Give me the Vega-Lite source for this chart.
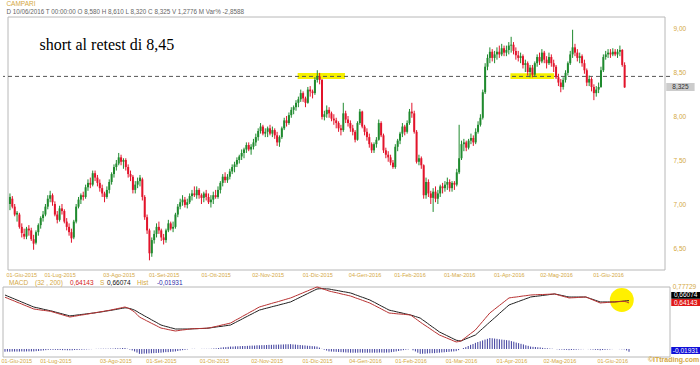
{
"$schema": "https://vega.github.io/schema/vega-lite/v6.json",
"width": 667, "height": 340,
"autosize": "none",
"padding": {"left": 3, "top": 17, "right": 30, "bottom": 8},
"background": "white",
"config": {"view": {"stroke": null}, "font": "Liberation Sans"},
"data": {"values": [
{"i":0,"o":7.00,"h":7.12,"l":6.93,"c":7.08,"m":0.690,"s":0.709,"d":-0.019},
{"i":1,"o":7.06,"h":7.09,"l":6.95,"c":6.97,"m":0.682,"s":0.700,"d":-0.018},
{"i":2,"o":6.97,"h":7.00,"l":6.86,"c":6.88,"m":0.673,"s":0.692,"d":-0.019},
{"i":3,"o":6.88,"h":6.92,"l":6.80,"c":6.90,"m":0.665,"s":0.683,"d":-0.018},
{"i":4,"o":6.88,"h":6.90,"l":6.72,"c":6.74,"m":0.657,"s":0.675,"d":-0.018},
{"i":5,"o":6.74,"h":6.78,"l":6.62,"c":6.67,"m":0.648,"s":0.666,"d":-0.018},
{"i":6,"o":6.66,"h":6.72,"l":6.60,"c":6.63,"m":0.640,"s":0.658,"d":-0.018},
{"i":7,"o":6.63,"h":6.74,"l":6.60,"c":6.72,"m":0.632,"s":0.649,"d":-0.017},
{"i":8,"o":6.72,"h":6.76,"l":6.64,"c":6.70,"m":0.623,"s":0.641,"d":-0.018},
{"i":9,"o":6.70,"h":6.73,"l":6.58,"c":6.60,"m":0.615,"s":0.632,"d":-0.017},
{"i":10,"o":6.60,"h":6.65,"l":6.48,"c":6.55,"m":0.607,"s":0.624,"d":-0.017},
{"i":11,"o":6.56,"h":6.70,"l":6.54,"c":6.68,"m":0.598,"s":0.615,"d":-0.017},
{"i":12,"o":6.68,"h":6.78,"l":6.64,"c":6.76,"m":0.590,"s":0.607,"d":-0.017},
{"i":13,"o":6.76,"h":6.86,"l":6.72,"c":6.84,"m":0.587,"s":0.602,"d":-0.015},
{"i":14,"o":6.84,"h":6.92,"l":6.80,"c":6.88,"m":0.584,"s":0.598,"d":-0.014},
{"i":15,"o":6.88,"h":7.00,"l":6.86,"c":6.97,"m":0.581,"s":0.593,"d":-0.012},
{"i":16,"o":6.97,"h":7.10,"l":6.94,"c":7.06,"m":0.578,"s":0.588,"d":-0.010},
{"i":17,"o":7.06,"h":7.15,"l":7.02,"c":7.10,"m":0.576,"s":0.584,"d":-0.008},
{"i":18,"o":7.10,"h":7.12,"l":6.98,"c":7.02,"m":0.573,"s":0.579,"d":-0.006},
{"i":19,"o":7.00,"h":7.03,"l":6.86,"c":6.88,"m":0.570,"s":0.575,"d":-0.005},
{"i":20,"o":6.88,"h":6.92,"l":6.78,"c":6.82,"m":0.564,"s":0.570,"d":-0.006},
{"i":21,"o":6.82,"h":6.98,"l":6.80,"c":6.95,"m":0.558,"s":0.564,"d":-0.006},
{"i":22,"o":6.95,"h":7.00,"l":6.88,"c":6.92,"m":0.552,"s":0.559,"d":-0.007},
{"i":23,"o":6.92,"h":6.94,"l":6.78,"c":6.80,"m":0.546,"s":0.553,"d":-0.007},
{"i":24,"o":6.80,"h":6.84,"l":6.70,"c":6.74,"m":0.540,"s":0.548,"d":-0.008},
{"i":25,"o":6.74,"h":6.78,"l":6.64,"c":6.68,"m":0.534,"s":0.542,"d":-0.008},
{"i":26,"o":6.68,"h":6.72,"l":6.56,"c":6.61,"m":0.528,"s":0.537,"d":-0.009},
{"i":27,"o":6.62,"h":6.82,"l":6.60,"c":6.80,"m":0.522,"s":0.531,"d":-0.009},
{"i":28,"o":6.80,"h":7.00,"l":6.78,"c":6.97,"m":0.525,"s":0.534,"d":-0.009},
{"i":29,"o":6.97,"h":7.08,"l":6.95,"c":7.05,"m":0.529,"s":0.536,"d":-0.007},
{"i":30,"o":7.05,"h":7.12,"l":7.00,"c":7.10,"m":0.532,"s":0.539,"d":-0.007},
{"i":31,"o":7.10,"h":7.14,"l":7.04,"c":7.08,"m":0.536,"s":0.541,"d":-0.005},
{"i":32,"o":7.08,"h":7.22,"l":7.06,"c":7.19,"m":0.539,"s":0.544,"d":-0.005},
{"i":33,"o":7.19,"h":7.28,"l":7.15,"c":7.24,"m":0.542,"s":0.546,"d":-0.004},
{"i":34,"o":7.24,"h":7.30,"l":7.18,"c":7.22,"m":0.546,"s":0.549,"d":-0.003},
{"i":35,"o":7.22,"h":7.38,"l":7.20,"c":7.35,"m":0.549,"s":0.551,"d":-0.002},
{"i":36,"o":7.35,"h":7.38,"l":7.26,"c":7.30,"m":0.553,"s":0.554,"d":-0.001},
{"i":37,"o":7.30,"h":7.33,"l":7.20,"c":7.24,"m":0.556,"s":0.556,"d":0},
{"i":38,"o":7.24,"h":7.28,"l":7.14,"c":7.18,"m":0.560,"s":0.559,"d":0.001},
{"i":39,"o":7.18,"h":7.22,"l":7.08,"c":7.12,"m":0.563,"s":0.562,"d":0.001},
{"i":40,"o":7.12,"h":7.14,"l":7.02,"c":7.08,"m":0.567,"s":0.565,"d":0.002},
{"i":41,"o":7.08,"h":7.20,"l":7.06,"c":7.16,"m":0.570,"s":0.568,"d":0.002},
{"i":42,"o":7.16,"h":7.28,"l":7.12,"c":7.25,"m":0.574,"s":0.572,"d":0.002},
{"i":43,"o":7.25,"h":7.36,"l":7.22,"c":7.34,"m":0.577,"s":0.575,"d":0.002},
{"i":44,"o":7.34,"h":7.45,"l":7.30,"c":7.42,"m":0.581,"s":0.578,"d":0.003},
{"i":45,"o":7.42,"h":7.50,"l":7.38,"c":7.46,"m":0.585,"s":0.582,"d":0.003},
{"i":46,"o":7.46,"h":7.58,"l":7.44,"c":7.53,"m":0.590,"s":0.585,"d":0.005},
{"i":47,"o":7.53,"h":7.56,"l":7.44,"c":7.48,"m":0.594,"s":0.589,"d":0.005},
{"i":48,"o":7.48,"h":7.52,"l":7.40,"c":7.50,"m":0.598,"s":0.593,"d":0.005},
{"i":49,"o":7.50,"h":7.52,"l":7.38,"c":7.42,"m":0.603,"s":0.596,"d":0.007},
{"i":50,"o":7.42,"h":7.45,"l":7.30,"c":7.34,"m":0.607,"s":0.600,"d":0.007},
{"i":51,"o":7.34,"h":7.38,"l":7.26,"c":7.31,"m":0.600,"s":0.598,"d":0.002},
{"i":52,"o":7.31,"h":7.33,"l":7.12,"c":7.16,"m":0.590,"s":0.594,"d":-0.004},
{"i":53,"o":7.16,"h":7.26,"l":7.12,"c":7.22,"m":0.578,"s":0.588,"d":-0.010},
{"i":54,"o":7.22,"h":7.30,"l":7.18,"c":7.26,"m":0.563,"s":0.580,"d":-0.017},
{"i":55,"o":7.26,"h":7.33,"l":7.20,"c":7.30,"m":0.544,"s":0.569,"d":-0.025},
{"i":56,"o":7.28,"h":7.30,"l":7.04,"c":7.08,"m":0.522,"s":0.556,"d":-0.034},
{"i":57,"o":7.08,"h":7.10,"l":6.82,"c":6.85,"m":0.511,"s":0.545,"d":-0.034},
{"i":58,"o":6.85,"h":6.88,"l":6.66,"c":6.70,"m":0.501,"s":0.533,"d":-0.032},
{"i":59,"o":6.70,"h":6.72,"l":6.36,"c":6.44,"m":0.490,"s":0.522,"d":-0.032},
{"i":60,"o":6.44,"h":6.62,"l":6.40,"c":6.59,"m":0.480,"s":0.511,"d":-0.031},
{"i":61,"o":6.59,"h":6.70,"l":6.55,"c":6.66,"m":0.469,"s":0.499,"d":-0.030},
{"i":62,"o":6.66,"h":6.78,"l":6.62,"c":6.74,"m":0.459,"s":0.488,"d":-0.029},
{"i":63,"o":6.74,"h":6.80,"l":6.66,"c":6.70,"m":0.449,"s":0.477,"d":-0.028},
{"i":64,"o":6.70,"h":6.72,"l":6.58,"c":6.62,"m":0.438,"s":0.465,"d":-0.027},
{"i":65,"o":6.62,"h":6.66,"l":6.54,"c":6.59,"m":0.428,"s":0.454,"d":-0.026},
{"i":66,"o":6.59,"h":6.72,"l":6.56,"c":6.70,"m":0.424,"s":0.448,"d":-0.024},
{"i":67,"o":6.70,"h":6.82,"l":6.68,"c":6.78,"m":0.420,"s":0.442,"d":-0.022},
{"i":68,"o":6.78,"h":6.80,"l":6.70,"c":6.72,"m":0.415,"s":0.437,"d":-0.022},
{"i":69,"o":6.72,"h":6.80,"l":6.68,"c":6.74,"m":0.411,"s":0.431,"d":-0.020},
{"i":70,"o":6.74,"h":6.90,"l":6.72,"c":6.88,"m":0.407,"s":0.426,"d":-0.019},
{"i":71,"o":6.88,"h":7.00,"l":6.85,"c":6.97,"m":0.403,"s":0.420,"d":-0.017},
{"i":72,"o":6.97,"h":7.06,"l":6.94,"c":7.02,"m":0.406,"s":0.420,"d":-0.014},
{"i":73,"o":7.02,"h":7.10,"l":6.98,"c":7.05,"m":0.409,"s":0.420,"d":-0.011},
{"i":74,"o":7.05,"h":7.08,"l":6.96,"c":6.99,"m":0.412,"s":0.420,"d":-0.008},
{"i":75,"o":6.99,"h":7.06,"l":6.95,"c":7.02,"m":0.414,"s":0.420,"d":-0.006},
{"i":76,"o":7.02,"h":7.12,"l":7.00,"c":7.09,"m":0.417,"s":0.420,"d":-0.003},
{"i":77,"o":7.09,"h":7.16,"l":7.04,"c":7.12,"m":0.420,"s":0.420,"d":0},
{"i":78,"o":7.12,"h":7.20,"l":7.08,"c":7.10,"m":0.422,"s":0.421,"d":0.001},
{"i":79,"o":7.10,"h":7.20,"l":7.06,"c":7.16,"m":0.423,"s":0.422,"d":0.001},
{"i":80,"o":7.16,"h":7.18,"l":7.06,"c":7.10,"m":0.423,"s":0.423,"d":0},
{"i":81,"o":7.10,"h":7.12,"l":7.00,"c":7.07,"m":0.424,"s":0.424,"d":0},
{"i":82,"o":7.07,"h":7.14,"l":7.02,"c":7.12,"m":0.425,"s":0.424,"d":0.001},
{"i":83,"o":7.12,"h":7.16,"l":7.04,"c":7.08,"m":0.426,"s":0.425,"d":0.001},
{"i":84,"o":7.08,"h":7.12,"l":7.00,"c":7.02,"m":0.427,"s":0.426,"d":0.001},
{"i":85,"o":7.02,"h":7.10,"l":6.96,"c":7.05,"m":0.429,"s":0.428,"d":0.001},
{"i":86,"o":7.05,"h":7.14,"l":7.00,"c":7.10,"m":0.433,"s":0.431,"d":0.002},
{"i":87,"o":7.10,"h":7.16,"l":7.06,"c":7.08,"m":0.438,"s":0.434,"d":0.004},
{"i":88,"o":7.08,"h":7.20,"l":7.06,"c":7.16,"m":0.442,"s":0.437,"d":0.005},
{"i":89,"o":7.16,"h":7.26,"l":7.12,"c":7.24,"m":0.447,"s":0.440,"d":0.007},
{"i":90,"o":7.24,"h":7.34,"l":7.20,"c":7.31,"m":0.452,"s":0.442,"d":0.010},
{"i":91,"o":7.31,"h":7.36,"l":7.24,"c":7.27,"m":0.457,"s":0.445,"d":0.012},
{"i":92,"o":7.27,"h":7.34,"l":7.24,"c":7.31,"m":0.461,"s":0.448,"d":0.013},
{"i":93,"o":7.31,"h":7.40,"l":7.28,"c":7.37,"m":0.466,"s":0.451,"d":0.015},
{"i":94,"o":7.37,"h":7.45,"l":7.34,"c":7.42,"m":0.471,"s":0.454,"d":0.017},
{"i":95,"o":7.42,"h":7.48,"l":7.36,"c":7.45,"m":0.482,"s":0.465,"d":0.017},
{"i":96,"o":7.45,"h":7.53,"l":7.42,"c":7.50,"m":0.494,"s":0.475,"d":0.019},
{"i":97,"o":7.50,"h":7.56,"l":7.46,"c":7.54,"m":0.505,"s":0.486,"d":0.019},
{"i":98,"o":7.54,"h":7.62,"l":7.50,"c":7.58,"m":0.516,"s":0.496,"d":0.020},
{"i":99,"o":7.58,"h":7.64,"l":7.52,"c":7.62,"m":0.528,"s":0.507,"d":0.021},
{"i":100,"o":7.62,"h":7.70,"l":7.58,"c":7.67,"m":0.539,"s":0.518,"d":0.021},
{"i":101,"o":7.67,"h":7.70,"l":7.60,"c":7.62,"m":0.550,"s":0.528,"d":0.022},
{"i":102,"o":7.62,"h":7.68,"l":7.56,"c":7.65,"m":0.562,"s":0.539,"d":0.023},
{"i":103,"o":7.65,"h":7.74,"l":7.62,"c":7.70,"m":0.573,"s":0.549,"d":0.024},
{"i":104,"o":7.70,"h":7.80,"l":7.66,"c":7.76,"m":0.584,"s":0.560,"d":0.024},
{"i":105,"o":7.76,"h":7.86,"l":7.72,"c":7.83,"m":0.596,"s":0.570,"d":0.026},
{"i":106,"o":7.83,"h":7.92,"l":7.80,"c":7.88,"m":0.607,"s":0.581,"d":0.026},
{"i":107,"o":7.88,"h":7.90,"l":7.78,"c":7.80,"m":0.613,"s":0.586,"d":0.027},
{"i":108,"o":7.80,"h":7.86,"l":7.76,"c":7.82,"m":0.619,"s":0.592,"d":0.027},
{"i":109,"o":7.82,"h":7.88,"l":7.76,"c":7.86,"m":0.625,"s":0.597,"d":0.028},
{"i":110,"o":7.86,"h":7.90,"l":7.78,"c":7.80,"m":0.631,"s":0.602,"d":0.029},
{"i":111,"o":7.80,"h":7.88,"l":7.76,"c":7.84,"m":0.637,"s":0.608,"d":0.029},
{"i":112,"o":7.84,"h":7.86,"l":7.74,"c":7.78,"m":0.643,"s":0.613,"d":0.030},
{"i":113,"o":7.78,"h":7.82,"l":7.66,"c":7.70,"m":0.648,"s":0.618,"d":0.030},
{"i":114,"o":7.70,"h":7.78,"l":7.65,"c":7.76,"m":0.654,"s":0.623,"d":0.031},
{"i":115,"o":7.76,"h":7.88,"l":7.74,"c":7.86,"m":0.660,"s":0.629,"d":0.031},
{"i":116,"o":7.86,"h":7.98,"l":7.84,"c":7.95,"m":0.666,"s":0.634,"d":0.032},
{"i":117,"o":7.95,"h":8.00,"l":7.88,"c":7.92,"m":0.672,"s":0.639,"d":0.033},
{"i":118,"o":7.92,"h":8.04,"l":7.90,"c":8.01,"m":0.678,"s":0.645,"d":0.033},
{"i":119,"o":8.01,"h":8.10,"l":7.98,"c":8.07,"m":0.684,"s":0.650,"d":0.034},
{"i":120,"o":8.07,"h":8.12,"l":8.02,"c":8.10,"m":0.692,"s":0.660,"d":0.032},
{"i":121,"o":8.10,"h":8.18,"l":8.06,"c":8.15,"m":0.701,"s":0.670,"d":0.031},
{"i":122,"o":8.15,"h":8.22,"l":8.10,"c":8.19,"m":0.709,"s":0.680,"d":0.029},
{"i":123,"o":8.19,"h":8.30,"l":8.16,"c":8.26,"m":0.718,"s":0.690,"d":0.028},
{"i":124,"o":8.26,"h":8.28,"l":8.16,"c":8.20,"m":0.726,"s":0.700,"d":0.026},
{"i":125,"o":8.20,"h":8.22,"l":8.10,"c":8.15,"m":0.735,"s":0.710,"d":0.025},
{"i":126,"o":8.15,"h":8.33,"l":8.14,"c":8.30,"m":0.743,"s":0.720,"d":0.023},
{"i":127,"o":8.30,"h":8.34,"l":8.22,"c":8.28,"m":0.752,"s":0.730,"d":0.022},
{"i":128,"o":8.28,"h":8.30,"l":8.20,"c":8.26,"m":0.760,"s":0.740,"d":0.020},
{"i":129,"o":8.26,"h":8.44,"l":8.24,"c":8.41,"m":0.769,"s":0.750,"d":0.019},
{"i":130,"o":8.41,"h":8.52,"l":8.38,"c":8.45,"m":0.777,"s":0.760,"d":0.017},
{"i":131,"o":8.45,"h":8.49,"l":8.36,"c":8.41,"m":0.772,"s":0.762,"d":0.010},
{"i":132,"o":8.41,"h":8.42,"l":7.96,"c":7.99,"m":0.764,"s":0.763,"d":0.001},
{"i":133,"o":7.99,"h":8.06,"l":7.95,"c":8.02,"m":0.757,"s":0.762,"d":-0.005},
{"i":134,"o":8.02,"h":8.12,"l":7.98,"c":8.07,"m":0.750,"s":0.761,"d":-0.011},
{"i":135,"o":8.07,"h":8.10,"l":7.98,"c":8.03,"m":0.743,"s":0.760,"d":-0.017},
{"i":136,"o":8.03,"h":8.05,"l":7.94,"c":7.97,"m":0.738,"s":0.756,"d":-0.018},
{"i":137,"o":7.97,"h":8.02,"l":7.90,"c":7.95,"m":0.733,"s":0.752,"d":-0.019},
{"i":138,"o":7.95,"h":7.98,"l":7.86,"c":7.92,"m":0.729,"s":0.749,"d":-0.020},
{"i":139,"o":7.92,"h":7.94,"l":7.82,"c":7.86,"m":0.724,"s":0.745,"d":-0.021},
{"i":140,"o":7.86,"h":7.90,"l":7.78,"c":7.84,"m":0.719,"s":0.741,"d":-0.022},
{"i":141,"o":7.84,"h":8.15,"l":7.82,"c":8.03,"m":0.714,"s":0.737,"d":-0.023},
{"i":142,"o":8.03,"h":8.06,"l":7.92,"c":7.96,"m":0.710,"s":0.734,"d":-0.024},
{"i":143,"o":7.96,"h":8.00,"l":7.88,"c":7.92,"m":0.705,"s":0.730,"d":-0.025},
{"i":144,"o":7.92,"h":7.95,"l":7.82,"c":7.86,"m":0.700,"s":0.726,"d":-0.026},
{"i":145,"o":7.86,"h":7.90,"l":7.78,"c":7.82,"m":0.693,"s":0.719,"d":-0.026},
{"i":146,"o":7.82,"h":7.84,"l":7.70,"c":7.73,"m":0.685,"s":0.711,"d":-0.026},
{"i":147,"o":7.73,"h":7.94,"l":7.72,"c":7.92,"m":0.678,"s":0.704,"d":-0.026},
{"i":148,"o":7.92,"h":8.08,"l":7.90,"c":8.05,"m":0.671,"s":0.696,"d":-0.025},
{"i":149,"o":8.05,"h":8.06,"l":7.86,"c":7.88,"m":0.663,"s":0.689,"d":-0.026},
{"i":150,"o":7.88,"h":7.90,"l":7.78,"c":7.82,"m":0.656,"s":0.682,"d":-0.026},
{"i":151,"o":7.82,"h":7.86,"l":7.72,"c":7.76,"m":0.648,"s":0.674,"d":-0.026},
{"i":152,"o":7.76,"h":7.80,"l":7.64,"c":7.68,"m":0.641,"s":0.667,"d":-0.026},
{"i":153,"o":7.68,"h":7.70,"l":7.58,"c":7.61,"m":0.630,"s":0.656,"d":-0.026},
{"i":154,"o":7.61,"h":7.70,"l":7.58,"c":7.68,"m":0.620,"s":0.646,"d":-0.026},
{"i":155,"o":7.68,"h":7.76,"l":7.64,"c":7.73,"m":0.609,"s":0.635,"d":-0.026},
{"i":156,"o":7.73,"h":7.96,"l":7.72,"c":7.92,"m":0.599,"s":0.624,"d":-0.025},
{"i":157,"o":7.92,"h":7.94,"l":7.76,"c":7.78,"m":0.588,"s":0.613,"d":-0.025},
{"i":158,"o":7.78,"h":7.80,"l":7.58,"c":7.61,"m":0.577,"s":0.603,"d":-0.026},
{"i":159,"o":7.61,"h":7.64,"l":7.52,"c":7.56,"m":0.567,"s":0.592,"d":-0.025},
{"i":160,"o":7.56,"h":7.60,"l":7.48,"c":7.53,"m":0.556,"s":0.581,"d":-0.025},
{"i":161,"o":7.53,"h":7.56,"l":7.44,"c":7.47,"m":0.554,"s":0.576,"d":-0.022},
{"i":162,"o":7.47,"h":7.50,"l":7.40,"c":7.42,"m":0.552,"s":0.572,"d":-0.020},
{"i":163,"o":7.42,"h":7.68,"l":7.40,"c":7.65,"m":0.550,"s":0.567,"d":-0.017},
{"i":164,"o":7.65,"h":7.74,"l":7.60,"c":7.72,"m":0.548,"s":0.562,"d":-0.014},
{"i":165,"o":7.72,"h":7.82,"l":7.68,"c":7.80,"m":0.547,"s":0.558,"d":-0.011},
{"i":166,"o":7.80,"h":7.92,"l":7.76,"c":7.88,"m":0.545,"s":0.553,"d":-0.008},
{"i":167,"o":7.88,"h":7.90,"l":7.78,"c":7.82,"m":0.543,"s":0.548,"d":-0.005},
{"i":168,"o":7.82,"h":7.95,"l":7.80,"c":7.92,"m":0.541,"s":0.544,"d":-0.003},
{"i":169,"o":7.92,"h":8.08,"l":7.90,"c":8.05,"m":0.539,"s":0.539,"d":0},
{"i":170,"o":8.05,"h":8.15,"l":7.98,"c":8.03,"m":0.524,"s":0.533,"d":-0.009},
{"i":171,"o":8.03,"h":8.06,"l":7.80,"c":7.82,"m":0.509,"s":0.526,"d":-0.017},
{"i":172,"o":7.82,"h":7.84,"l":7.46,"c":7.48,"m":0.494,"s":0.520,"d":-0.026},
{"i":173,"o":7.48,"h":7.56,"l":7.44,"c":7.52,"m":0.479,"s":0.513,"d":-0.034},
{"i":174,"o":7.52,"h":7.54,"l":7.40,"c":7.44,"m":0.465,"s":0.498,"d":-0.033},
{"i":175,"o":7.44,"h":7.45,"l":7.06,"c":7.10,"m":0.451,"s":0.484,"d":-0.033},
{"i":176,"o":7.10,"h":7.30,"l":7.06,"c":7.25,"m":0.438,"s":0.469,"d":-0.031},
{"i":177,"o":7.25,"h":7.28,"l":7.08,"c":7.12,"m":0.424,"s":0.454,"d":-0.030},
{"i":178,"o":7.12,"h":7.15,"l":7.00,"c":7.07,"m":0.410,"s":0.439,"d":-0.029},
{"i":179,"o":7.07,"h":7.18,"l":6.91,"c":7.14,"m":0.396,"s":0.425,"d":-0.029},
{"i":180,"o":7.14,"h":7.20,"l":7.02,"c":7.06,"m":0.383,"s":0.410,"d":-0.027},
{"i":181,"o":7.06,"h":7.16,"l":7.00,"c":7.12,"m":0.369,"s":0.395,"d":-0.026},
{"i":182,"o":7.12,"h":7.22,"l":7.08,"c":7.20,"m":0.361,"s":0.385,"d":-0.024},
{"i":183,"o":7.20,"h":7.24,"l":7.12,"c":7.18,"m":0.352,"s":0.375,"d":-0.023},
{"i":184,"o":7.18,"h":7.26,"l":7.14,"c":7.22,"m":0.344,"s":0.365,"d":-0.021},
{"i":185,"o":7.22,"h":7.30,"l":7.16,"c":7.25,"m":0.335,"s":0.355,"d":-0.020},
{"i":186,"o":7.25,"h":7.28,"l":7.14,"c":7.18,"m":0.327,"s":0.345,"d":-0.018},
{"i":187,"o":7.18,"h":7.26,"l":7.14,"c":7.24,"m":0.318,"s":0.335,"d":-0.017},
{"i":188,"o":7.24,"h":7.26,"l":7.16,"c":7.22,"m":0.310,"s":0.325,"d":-0.015},
{"i":189,"o":7.22,"h":7.40,"l":7.20,"c":7.36,"m":0.313,"s":0.321,"d":-0.008},
{"i":190,"o":7.36,"h":7.90,"l":7.34,"c":7.52,"m":0.318,"s":0.318,"d":0},
{"i":191,"o":7.52,"h":7.72,"l":7.50,"c":7.68,"m":0.334,"s":0.327,"d":0.007},
{"i":192,"o":7.68,"h":7.74,"l":7.60,"c":7.70,"m":0.349,"s":0.336,"d":0.013},
{"i":193,"o":7.70,"h":7.72,"l":7.60,"c":7.64,"m":0.365,"s":0.344,"d":0.021},
{"i":194,"o":7.64,"h":7.74,"l":7.62,"c":7.72,"m":0.381,"s":0.352,"d":0.029},
{"i":195,"o":7.72,"h":7.80,"l":7.68,"c":7.75,"m":0.396,"s":0.361,"d":0.035},
{"i":196,"o":7.75,"h":7.78,"l":7.66,"c":7.70,"m":0.412,"s":0.369,"d":0.043},
{"i":197,"o":7.70,"h":7.86,"l":7.68,"c":7.82,"m":0.436,"s":0.387,"d":0.049},
{"i":198,"o":7.82,"h":7.94,"l":7.80,"c":7.90,"m":0.460,"s":0.406,"d":0.054},
{"i":199,"o":7.90,"h":8.02,"l":7.88,"c":7.98,"m":0.484,"s":0.424,"d":0.060},
{"i":200,"o":7.98,"h":8.30,"l":7.96,"c":8.27,"m":0.508,"s":0.442,"d":0.066},
{"i":201,"o":8.27,"h":8.60,"l":8.25,"c":8.56,"m":0.532,"s":0.461,"d":0.071},
{"i":202,"o":8.56,"h":8.70,"l":8.52,"c":8.66,"m":0.556,"s":0.479,"d":0.077},
{"i":203,"o":8.66,"h":8.78,"l":8.60,"c":8.73,"m":0.572,"s":0.497,"d":0.075},
{"i":204,"o":8.73,"h":8.76,"l":8.62,"c":8.66,"m":0.588,"s":0.515,"d":0.073},
{"i":205,"o":8.66,"h":8.74,"l":8.60,"c":8.70,"m":0.604,"s":0.533,"d":0.071},
{"i":206,"o":8.70,"h":8.78,"l":8.64,"c":8.73,"m":0.620,"s":0.552,"d":0.068},
{"i":207,"o":8.73,"h":8.80,"l":8.66,"c":8.70,"m":0.636,"s":0.570,"d":0.066},
{"i":208,"o":8.70,"h":8.82,"l":8.68,"c":8.77,"m":0.652,"s":0.588,"d":0.064},
{"i":209,"o":8.77,"h":8.80,"l":8.68,"c":8.72,"m":0.668,"s":0.606,"d":0.062},
{"i":210,"o":8.72,"h":8.80,"l":8.68,"c":8.75,"m":0.684,"s":0.624,"d":0.060},
{"i":211,"o":8.75,"h":8.84,"l":8.70,"c":8.80,"m":0.687,"s":0.632,"d":0.055},
{"i":212,"o":8.80,"h":8.90,"l":8.72,"c":8.81,"m":0.690,"s":0.639,"d":0.051},
{"i":213,"o":8.81,"h":8.84,"l":8.70,"c":8.74,"m":0.692,"s":0.647,"d":0.045},
{"i":214,"o":8.74,"h":8.78,"l":8.64,"c":8.69,"m":0.695,"s":0.654,"d":0.041},
{"i":215,"o":8.69,"h":8.74,"l":8.62,"c":8.66,"m":0.698,"s":0.662,"d":0.036},
{"i":216,"o":8.66,"h":8.72,"l":8.60,"c":8.68,"m":0.701,"s":0.669,"d":0.032},
{"i":217,"o":8.68,"h":8.70,"l":8.54,"c":8.58,"m":0.703,"s":0.677,"d":0.026},
{"i":218,"o":8.58,"h":8.64,"l":8.50,"c":8.60,"m":0.706,"s":0.684,"d":0.022},
{"i":219,"o":8.60,"h":8.62,"l":8.46,"c":8.50,"m":0.709,"s":0.692,"d":0.017},
{"i":220,"o":8.50,"h":8.58,"l":8.44,"c":8.55,"m":0.710,"s":0.695,"d":0.015},
{"i":221,"o":8.55,"h":8.58,"l":8.44,"c":8.47,"m":0.711,"s":0.697,"d":0.014},
{"i":222,"o":8.47,"h":8.62,"l":8.45,"c":8.60,"m":0.712,"s":0.700,"d":0.012},
{"i":223,"o":8.60,"h":8.70,"l":8.56,"c":8.67,"m":0.713,"s":0.702,"d":0.011},
{"i":224,"o":8.67,"h":8.72,"l":8.58,"c":8.62,"m":0.713,"s":0.705,"d":0.008},
{"i":225,"o":8.62,"h":8.76,"l":8.60,"c":8.72,"m":0.714,"s":0.708,"d":0.006},
{"i":226,"o":8.72,"h":8.74,"l":8.60,"c":8.64,"m":0.715,"s":0.710,"d":0.005},
{"i":227,"o":8.64,"h":8.68,"l":8.54,"c":8.60,"m":0.716,"s":0.713,"d":0.003},
{"i":228,"o":8.60,"h":8.72,"l":8.58,"c":8.67,"m":0.717,"s":0.715,"d":0.002},
{"i":229,"o":8.67,"h":8.70,"l":8.56,"c":8.60,"m":0.718,"s":0.718,"d":0},
{"i":230,"o":8.60,"h":8.64,"l":8.50,"c":8.56,"m":0.712,"s":0.714,"d":-0.002},
{"i":231,"o":8.56,"h":8.58,"l":8.42,"c":8.44,"m":0.706,"s":0.710,"d":-0.004},
{"i":232,"o":8.44,"h":8.48,"l":8.34,"c":8.38,"m":0.701,"s":0.705,"d":-0.004},
{"i":233,"o":8.38,"h":8.42,"l":8.27,"c":8.33,"m":0.695,"s":0.701,"d":-0.006},
{"i":234,"o":8.33,"h":8.44,"l":8.30,"c":8.41,"m":0.690,"s":0.696,"d":-0.006},
{"i":235,"o":8.41,"h":8.52,"l":8.38,"c":8.49,"m":0.684,"s":0.692,"d":-0.008},
{"i":236,"o":8.49,"h":8.62,"l":8.46,"c":8.60,"m":0.685,"s":0.692,"d":-0.007},
{"i":237,"o":8.60,"h":8.74,"l":8.58,"c":8.70,"m":0.686,"s":0.692,"d":-0.006},
{"i":238,"o":8.70,"h":8.98,"l":8.66,"c":8.78,"m":0.687,"s":0.692,"d":-0.005},
{"i":239,"o":8.78,"h":8.82,"l":8.68,"c":8.72,"m":0.689,"s":0.692,"d":-0.003},
{"i":240,"o":8.72,"h":8.76,"l":8.62,"c":8.66,"m":0.690,"s":0.692,"d":-0.002},
{"i":241,"o":8.66,"h":8.72,"l":8.60,"c":8.68,"m":0.691,"s":0.692,"d":-0.001},
{"i":242,"o":8.68,"h":8.70,"l":8.56,"c":8.60,"m":0.692,"s":0.692,"d":0},
{"i":243,"o":8.60,"h":8.64,"l":8.48,"c":8.52,"m":0.684,"s":0.685,"d":-0.001},
{"i":244,"o":8.52,"h":8.54,"l":8.34,"c":8.38,"m":0.675,"s":0.678,"d":-0.003},
{"i":245,"o":8.38,"h":8.46,"l":8.34,"c":8.42,"m":0.667,"s":0.671,"d":-0.004},
{"i":246,"o":8.42,"h":8.44,"l":8.28,"c":8.33,"m":0.658,"s":0.664,"d":-0.006},
{"i":247,"o":8.33,"h":8.36,"l":8.18,"c":8.26,"m":0.650,"s":0.657,"d":-0.007},
{"i":248,"o":8.26,"h":8.34,"l":8.22,"c":8.30,"m":0.641,"s":0.650,"d":-0.009},
{"i":249,"o":8.30,"h":8.38,"l":8.26,"c":8.33,"m":0.643,"s":0.650,"d":-0.007},
{"i":250,"o":8.33,"h":8.56,"l":8.32,"c":8.52,"m":0.644,"s":0.650,"d":-0.006},
{"i":251,"o":8.52,"h":8.70,"l":8.50,"c":8.67,"m":0.646,"s":0.650,"d":-0.004},
{"i":252,"o":8.67,"h":8.74,"l":8.64,"c":8.70,"m":0.647,"s":0.650,"d":-0.003},
{"i":253,"o":8.70,"h":8.76,"l":8.66,"c":8.72,"m":0.649,"s":0.650,"d":-0.001},
{"i":254,"o":8.72,"h":8.76,"l":8.66,"c":8.70,"m":0.650,"s":0.650,"d":0},
{"i":255,"o":8.70,"h":8.77,"l":8.68,"c":8.73,"m":0.652,"s":0.652,"d":0},
{"i":256,"o":8.73,"h":8.76,"l":8.68,"c":8.70,"m":0.653,"s":0.654,"d":-0.001},
{"i":257,"o":8.70,"h":8.76,"l":8.66,"c":8.73,"m":0.654,"s":0.656,"d":-0.002},
{"i":258,"o":8.73,"h":8.80,"l":8.68,"c":8.75,"m":0.655,"s":0.658,"d":-0.003},
{"i":259,"o":8.75,"h":8.76,"l":8.56,"c":8.58,"m":0.650,"s":0.660,"d":-0.010},
{"i":260,"o":8.58,"h":8.61,"l":8.32,"c":8.325,"m":0.64143,"s":0.66074,"d":-0.01931}
]},
"resolve": {"scale": {"x": "independent", "y": "independent"}},
"layer": [
{"layer": [
 {"data": {"values": [{}]}, "mark": {"type": "rect", "color": "#f5f000"},
  "encoding": {
   "x": {"datum": 121.7, "type": "quantitative", "scale": {"domain": [-0.83, 277.08], "nice": false, "zero": false},
    "axis": {"orient": "bottom", "offset": -87, "values": [0,21,46,65,87,109,130,150,169,190,211,231,253], "labelExpr": "['01-Giu-2015','01-Lug-2015','03-Ago-2015','01-Set-2015','01-Ott-2015','02-Nov-2015','01-Dic-2015','04-Gen-2016','01-Feb-2016','01-Mar-2016','01-Apr-2016','02-Mag-2016','01-Giu-2016'][indexof([0,21,46,65,87,109,130,150,169,190,211,231,253], datum.value)]", "labelAlign": {"condition": {"test": "datum.value == 0", "value": "left"}, "value": "center"}, "labelOffset": {"condition": {"test": "datum.value == 0", "value": -4}, "value": 0}, "title": null, "ticks": false, "domain": false, "grid": false, "labelColor": "#d4a843", "labelFontSize": 5.5, "labelFont": "Liberation Sans", "labelPadding": 2, "labelFlush": false, "labelOverlap": false, "labelBound": false}},
   "x2": {"datum": 141.7},
   "y": {"datum": 8.49, "type": "quantitative", "scale": {"domain": [5.2614, 9.125], "nice": false, "zero": false},
    "axis": {"orient": "right", "values": [6.5,6.75,7,7.25,7.5,7.75,8,8.25,8.5,8.75,9], "labelExpr": "replace(format(datum.value, '.2f'), '.', ',')", "title": null, "ticks": false, "domain": false, "grid": false, "labelColor": "#d4a843", "labelFontSize": 6.5, "labelFont": "Liberation Sans", "labelPadding": 3}},
   "y2": {"datum": 8.42}}},
 {"data": {"values": [{}]}, "mark": {"type": "rect", "color": "#f5f000"},
  "encoding": {
   "x": {"datum": 211.7, "type": "quantitative", "scale": {"domain": [-0.83, 277.08], "nice": false, "zero": false}},
   "x2": {"datum": 230.2},
   "y": {"datum": 8.485, "type": "quantitative", "scale": {"domain": [5.2614, 9.125], "nice": false, "zero": false}},
   "y2": {"datum": 8.42}}},
 {"data": {"values": [{}]}, "mark": {"type": "rect", "filled": false, "color": "#b8b8b8", "strokeWidth": 1},
  "encoding": {
   "x": {"datum": -0.83, "type": "quantitative", "scale": {"domain": [-0.83, 277.08], "nice": false, "zero": false}},
   "x2": {"datum": 277.08},
   "y": {"datum": 9.125, "type": "quantitative", "scale": {"domain": [5.2614, 9.125], "nice": false, "zero": false}},
   "y2": {"datum": 6.25}}},
 {"data": {"values": [{}]}, "mark": {"type": "rule", "color": "#555555", "strokeDash": [4, 3], "strokeWidth": 1},
  "encoding": {
   "y": {"datum": 8.45, "type": "quantitative", "scale": {"domain": [5.2614, 9.125], "nice": false, "zero": false}}}},
 {"mark": {"type": "rule", "strokeWidth": 1},
  "encoding": {
   "x": {"field": "i", "type": "quantitative", "scale": {"domain": [-0.83, 277.08], "nice": false, "zero": false}},
   "y": {"field": "l", "type": "quantitative", "scale": {"domain": [5.2614, 9.125], "nice": false, "zero": false}},
   "y2": {"field": "h"},
   "color": {"condition": {"test": "datum.c >= datum.o", "value": "#1f8a2e"}, "value": "#e2142b"}}},
 {"mark": {"type": "bar", "width": 2},
  "encoding": {
   "x": {"field": "i", "type": "quantitative", "scale": {"domain": [-0.83, 277.08], "nice": false, "zero": false}},
   "y": {"field": "o", "type": "quantitative", "scale": {"domain": [5.2614, 9.125], "nice": false, "zero": false}},
   "y2": {"field": "c"},
   "color": {"condition": {"test": "datum.c >= datum.o", "value": "#1f8a2e"}, "value": "#e2142b"}}},
 {"data": {"values": [{}]}, "mark": {"type": "text", "text": "short al retest di 8,45", "font": "Liberation Serif", "fontSize": 16, "align": "left", "baseline": "middle", "color": "#000000"},
  "encoding": {
   "x": {"datum": 12.5, "type": "quantitative", "scale": {"domain": [-0.83, 277.08], "nice": false, "zero": false}},
   "y": {"datum": 8.807, "type": "quantitative", "scale": {"domain": [5.2614, 9.125], "nice": false, "zero": false}}}},
 {"data": {"values": [{}]}, "mark": {"type": "text", "text": "CAMPARI", "fontSize": 6.5, "align": "left", "baseline": "middle", "color": "#d4a843"},
  "encoding": {
   "x": {"datum": -1.5, "type": "quantitative", "scale": {"domain": [-0.83, 277.08], "nice": false, "zero": false}},
   "y": {"datum": 9.27, "type": "quantitative", "scale": {"domain": [5.2614, 9.125], "nice": false, "zero": false}}}},
 {"data": {"values": [{}]}, "mark": {"type": "text", "text": "D 10/06/2016  T 00:00:00  O 8,580  H 8,610  L 8,320  C 8,325  V 1,2776 M  Var% -2,8588", "fontSize": 6.3, "align": "left", "baseline": "middle", "color": "#666666"},
  "encoding": {
   "x": {"datum": -1.5, "type": "quantitative", "scale": {"domain": [-0.83, 277.08], "nice": false, "zero": false}},
   "y": {"datum": 9.18, "type": "quantitative", "scale": {"domain": [5.2614, 9.125], "nice": false, "zero": false}}}},
 {"data": {"values": [{}]}, "mark": {"type": "rect", "color": "#cccccc"},
  "encoding": {
   "x": {"datum": 277.6, "type": "quantitative", "scale": {"domain": [-0.83, 277.08], "nice": false, "zero": false}},
   "x2": {"datum": 289.6},
   "y": {"datum": 8.375, "type": "quantitative", "scale": {"domain": [5.2614, 9.125], "nice": false, "zero": false}},
   "y2": {"datum": 8.284}}},
 {"data": {"values": [{}]}, "mark": {"type": "text", "text": "8,325", "fontSize": 6.5, "align": "center", "baseline": "middle", "color": "#333333"},
  "encoding": {
   "x": {"datum": 283.6, "type": "quantitative", "scale": {"domain": [-0.83, 277.08], "nice": false, "zero": false}},
   "y": {"datum": 8.33, "type": "quantitative", "scale": {"domain": [5.2614, 9.125], "nice": false, "zero": false}}}}
]},
{"layer": [
 {"data": {"values": [{}]}, "mark": {"type": "rect", "filled": false, "color": "#b8b8b8", "strokeWidth": 1},
  "encoding": {
   "x": {"datum": -0.83, "type": "quantitative", "scale": {"domain": [-0.83, 277.08], "nice": false, "zero": false},
    "axis": {"orient": "bottom", "offset": 0, "values": [0,21,46,65,87,109,130,150,169,190,211,231,253], "labelExpr": "['01-Giu-2015','01-Lug-2015','03-Ago-2015','01-Set-2015','01-Ott-2015','02-Nov-2015','01-Dic-2015','04-Gen-2016','01-Feb-2016','01-Mar-2016','01-Apr-2016','02-Mag-2016','01-Giu-2016'][indexof([0,21,46,65,87,109,130,150,169,190,211,231,253], datum.value)]", "labelAlign": {"condition": {"test": "datum.value == 0", "value": "left"}, "value": "center"}, "labelOffset": {"condition": {"test": "datum.value == 0", "value": -4}, "value": 0}, "title": null, "ticks": false, "domain": false, "grid": false, "labelColor": "#d4a843", "labelFontSize": 5.5, "labelFont": "Liberation Sans", "labelPadding": 1, "labelFlush": false, "labelOverlap": false, "labelBound": false}},
   "x2": {"datum": 277.08},
   "y": {"datum": 0.777, "type": "quantitative", "scale": {"domain": [0.182, 3.072], "nice": false, "zero": false}, "axis": null},
   "y2": {"datum": 0.182}}},
 {"data": {"values": [{}]}, "mark": {"type": "point", "shape": "circle", "filled": true, "color": "#fff000", "opacity": 1, "size": 570},
  "encoding": {
   "x": {"datum": 257, "type": "quantitative", "scale": {"domain": [-0.83, 277.08], "nice": false, "zero": false}},
   "y": {"datum": 0.666, "type": "quantitative", "scale": {"domain": [0.182, 3.072], "nice": false, "zero": false}, "axis": null}}},
 {"mark": {"type": "line", "color": "#222222", "strokeWidth": 1},
  "encoding": {
   "x": {"field": "i", "type": "quantitative", "scale": {"domain": [-0.83, 277.08], "nice": false, "zero": false}},
   "y": {"field": "s", "type": "quantitative", "scale": {"domain": [0.182, 3.072], "nice": false, "zero": false}, "axis": null}}},
 {"mark": {"type": "line", "color": "#b83232", "strokeWidth": 1},
  "encoding": {
   "x": {"field": "i", "type": "quantitative", "scale": {"domain": [-0.83, 277.08], "nice": false, "zero": false}},
   "y": {"field": "m", "type": "quantitative", "scale": {"domain": [0.182, 3.072], "nice": false, "zero": false}, "axis": null}}},
 {"data": {"values": [{}]}, "mark": {"type": "text", "text": "MACD", "fontSize": 6.5, "align": "left", "baseline": "middle", "color": "#d4a843"},
  "encoding": {
   "x": {"datum": 1.7, "type": "quantitative", "scale": {"domain": [-0.83, 277.08], "nice": false, "zero": false}},
   "y": {"datum": 0.811, "type": "quantitative", "scale": {"domain": [0.182, 3.072], "nice": false, "zero": false}, "axis": null}}},
 {"data": {"values": [{}]}, "mark": {"type": "text", "text": "(32 , 200)", "fontSize": 6.5, "align": "left", "baseline": "middle", "color": "#d4a843"},
  "encoding": {
   "x": {"datum": 12.5, "type": "quantitative", "scale": {"domain": [-0.83, 277.08], "nice": false, "zero": false}},
   "y": {"datum": 0.811, "type": "quantitative", "scale": {"domain": [0.182, 3.072], "nice": false, "zero": false}, "axis": null}}},
 {"data": {"values": [{}]}, "mark": {"type": "text", "text": "0,64143", "fontSize": 6.5, "align": "left", "baseline": "middle", "color": "#d42020"},
  "encoding": {
   "x": {"datum": 27.1, "type": "quantitative", "scale": {"domain": [-0.83, 277.08], "nice": false, "zero": false}},
   "y": {"datum": 0.811, "type": "quantitative", "scale": {"domain": [0.182, 3.072], "nice": false, "zero": false}, "axis": null}}},
 {"data": {"values": [{}]}, "mark": {"type": "text", "text": "S", "fontSize": 6.5, "align": "left", "baseline": "middle", "color": "#d4a843"},
  "encoding": {
   "x": {"datum": 39.6, "type": "quantitative", "scale": {"domain": [-0.83, 277.08], "nice": false, "zero": false}},
   "y": {"datum": 0.811, "type": "quantitative", "scale": {"domain": [0.182, 3.072], "nice": false, "zero": false}, "axis": null}}},
 {"data": {"values": [{}]}, "mark": {"type": "text", "text": "0,66074", "fontSize": 6.5, "align": "left", "baseline": "middle", "color": "#111111"},
  "encoding": {
   "x": {"datum": 42.5, "type": "quantitative", "scale": {"domain": [-0.83, 277.08], "nice": false, "zero": false}},
   "y": {"datum": 0.811, "type": "quantitative", "scale": {"domain": [0.182, 3.072], "nice": false, "zero": false}, "axis": null}}},
 {"data": {"values": [{}]}, "mark": {"type": "text", "text": "Hist", "fontSize": 6.5, "align": "left", "baseline": "middle", "color": "#d4a843"},
  "encoding": {
   "x": {"datum": 55, "type": "quantitative", "scale": {"domain": [-0.83, 277.08], "nice": false, "zero": false}},
   "y": {"datum": 0.811, "type": "quantitative", "scale": {"domain": [0.182, 3.072], "nice": false, "zero": false}, "axis": null}}},
 {"data": {"values": [{}]}, "mark": {"type": "text", "text": "-0,01931", "fontSize": 6.5, "align": "left", "baseline": "middle", "color": "#2a2aa8"},
  "encoding": {
   "x": {"datum": 63.3, "type": "quantitative", "scale": {"domain": [-0.83, 277.08], "nice": false, "zero": false}},
   "y": {"datum": 0.811, "type": "quantitative", "scale": {"domain": [0.182, 3.072], "nice": false, "zero": false}, "axis": null}}},
 {"data": {"values": [{}]}, "mark": {"type": "text", "text": "0,77729", "fontSize": 6.5, "align": "left", "baseline": "middle", "color": "#d4a843"},
  "encoding": {
   "x": {"datum": 278.2, "type": "quantitative", "scale": {"domain": [-0.83, 277.08], "nice": false, "zero": false}},
   "y": {"datum": 0.777, "type": "quantitative", "scale": {"domain": [0.182, 3.072], "nice": false, "zero": false}, "axis": null}}},
 {"data": {"values": [{}]}, "mark": {"type": "rect", "color": "#000000"},
  "encoding": {
   "x": {"datum": 277.6, "type": "quantitative", "scale": {"domain": [-0.83, 277.08], "nice": false, "zero": false}},
   "x2": {"datum": 289.6},
   "y": {"datum": 0.7345, "type": "quantitative", "scale": {"domain": [0.182, 3.072], "nice": false, "zero": false}, "axis": null},
   "y2": {"datum": 0.677}}},
 {"data": {"values": [{}]}, "mark": {"type": "text", "text": "0,66074", "fontSize": 6.5, "align": "center", "baseline": "middle", "color": "#ffffff"},
  "encoding": {
   "x": {"datum": 283.6, "type": "quantitative", "scale": {"domain": [-0.83, 277.08], "nice": false, "zero": false}},
   "y": {"datum": 0.706, "type": "quantitative", "scale": {"domain": [0.182, 3.072], "nice": false, "zero": false}, "axis": null}}},
 {"data": {"values": [{}]}, "mark": {"type": "rect", "color": "#e01818"},
  "encoding": {
   "x": {"datum": 277.6, "type": "quantitative", "scale": {"domain": [-0.83, 277.08], "nice": false, "zero": false}},
   "x2": {"datum": 289.6},
   "y": {"datum": 0.675, "type": "quantitative", "scale": {"domain": [0.182, 3.072], "nice": false, "zero": false}, "axis": null},
   "y2": {"datum": 0.6155}}},
 {"data": {"values": [{}]}, "mark": {"type": "text", "text": "0,64143", "fontSize": 6.5, "align": "center", "baseline": "middle", "color": "#ffffff"},
  "encoding": {
   "x": {"datum": 283.6, "type": "quantitative", "scale": {"domain": [-0.83, 277.08], "nice": false, "zero": false}},
   "y": {"datum": 0.645, "type": "quantitative", "scale": {"domain": [0.182, 3.072], "nice": false, "zero": false}, "axis": null}}},
 {"data": {"values": [{}]}, "mark": {"type": "rect", "color": "#1010d8"},
  "encoding": {
   "x": {"datum": 277.6, "type": "quantitative", "scale": {"domain": [-0.83, 277.08], "nice": false, "zero": false}},
   "x2": {"datum": 289.6},
   "y": {"datum": 0.267, "type": "quantitative", "scale": {"domain": [0.182, 3.072], "nice": false, "zero": false}, "axis": null},
   "y2": {"datum": 0.2075}}},
 {"data": {"values": [{}]}, "mark": {"type": "text", "text": "-0,01931", "fontSize": 6.5, "align": "center", "baseline": "middle", "color": "#ffffff"},
  "encoding": {
   "x": {"datum": 283.6, "type": "quantitative", "scale": {"domain": [-0.83, 277.08], "nice": false, "zero": false}},
   "y": {"datum": 0.237, "type": "quantitative", "scale": {"domain": [0.182, 3.072], "nice": false, "zero": false}, "axis": null}}},
 {"data": {"values": [{}]}, "mark": {"type": "text", "text": "©ITtrading.com", "fontSize": 7, "fontWeight": "bold", "align": "right", "baseline": "middle", "color": "#d4a843"},
  "encoding": {
   "x": {"datum": 289.3, "type": "quantitative", "scale": {"domain": [-0.83, 277.08], "nice": false, "zero": false}},
   "y": {"datum": 0.1565, "type": "quantitative", "scale": {"domain": [0.182, 3.072], "nice": false, "zero": false}, "axis": null}}}
]},
{"layer": [
 {"mark": {"type": "rule", "color": "#3c3c9c", "strokeWidth": 1},
  "encoding": {
   "x": {"field": "i", "type": "quantitative", "scale": {"domain": [-0.83, 277.08], "nice": false, "zero": false}, "axis": null},
   "y": {"field": "d", "type": "quantitative", "scale": {"domain": [-0.056, 2.324], "nice": false, "zero": false}, "axis": null},
   "y2": {"datum": 0}}}
]}
]
}
